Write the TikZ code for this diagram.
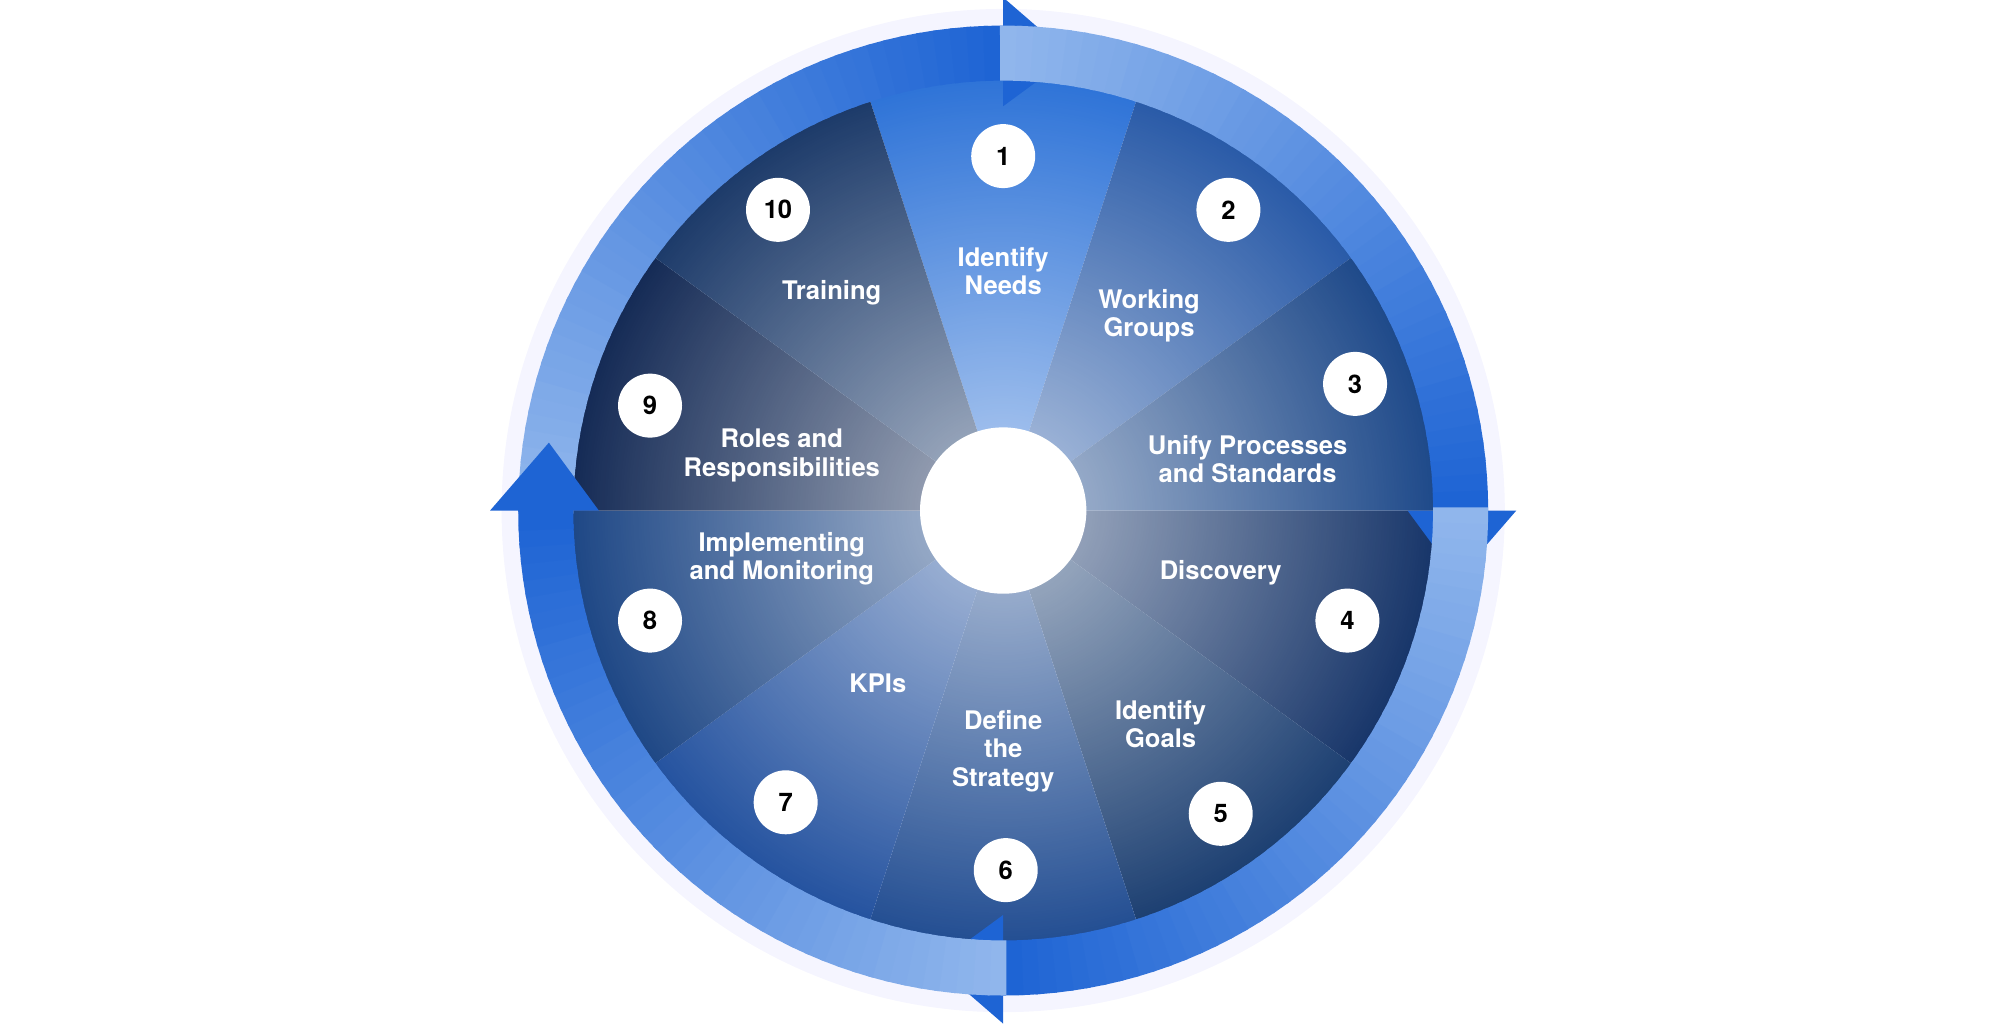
\documentclass[tikz,border=0pt]{standalone}
\usepackage{fontspec}
\setmainfont{TeX Gyre Heros}
\usetikzlibrary{fadings}
\tikzfading[name=centerglow, inner color=transparent!35, outer color=transparent!100]
\definecolor{ringlight}{HTML}{90B6EC}
\definecolor{ringdark}{HTML}{1E64D4}
\definecolor{sA}{HTML}{2F74D8}
\definecolor{sB}{HTML}{2A5BA8}
\definecolor{sC}{HTML}{1F4A8A}
\definecolor{sD}{HTML}{18366A}
\definecolor{sE}{HTML}{1D4072}
\definecolor{sF}{HTML}{244F93}
\definecolor{sG}{HTML}{2553A0}
\definecolor{sH}{HTML}{1F4886}
\definecolor{sI}{HTML}{152B56}
\definecolor{sJ}{HTML}{1D3B6A}
\tikzset{num/.style={circle,fill=white,minimum size=50pt,inner sep=0pt,font=\fontsize{20}{20}\selectfont\bfseries,text=black},
lab/.style={align=center,text=white,font=\fontsize{20}{22}\selectfont\bfseries}}
\begin{document}
\begin{tikzpicture}[x=1pt,y=1pt]
\useasboundingbox (-784,-401) rectangle (779,399);
\fill[blue!4] (0,0) circle(392);
% sectors
\foreach \c [count=\k from 0] in {sA,sB,sC,sD,sE,sF,sG,sH,sI,sJ}{
  \pgfmathsetmacro\sa{108-36*\k}
  \fill[\c] (0,0) -- (\sa:336.5) arc[start angle=\sa, end angle=\sa-36, radius=336.5] -- cycle;
}
\fill[white, path fading=centerglow] (0,0) circle(336);
% ring
\foreach \q in {0,...,3}{
  \foreach \i in {0,...,44}{
    \pgfmathsetmacro\a{180-90*\q-2*\i}
    \pgfmathtruncatemacro\p{100*\i/44}
    \draw[line width=43pt, color=ringdark!\p!ringlight] (\a+0.4:357.5) arc[start angle=\a+0.4, end angle=\a-2.2, radius=357.5];
  }
  \pgfmathsetmacro\b{90-90*\q}
  \fill[ringdark] (\b:316) -- (\b:401) -- (\b-8.5:359) -- cycle;
}
\fill[white] (0,0) circle(65);
% numbers
\node[num] (n1) at (0,277) {1};
\node[num] (n2) at (176,235) {2};
\node[num] (n3) at (275,99) {3};
\node[num] (n4) at (269,-86) {4};
\node[num] (n5) at (170,-237) {5};
\node[num] (n6) at (2,-281) {6};
\node[num] (n7) at (-170,-228) {7};
\node[num] (n8) at (-276,-86) {8};
\node[num] (n9) at (-276,82) {9};
\node[num] (n10) at (-176,235) {10};
% labels
\node[lab] (l1) at (0,187) {Identify\\Needs};
\node[lab] (l2) at (114,152) {Working\\Groups};
\node[lab] (l3) at (191,40) {Unify Processes\\and Standards};
\node[lab] (l4) at (170,-49) {Discovery};
\node[lab] (l5) at (123,-167) {Identify\\Goals};
\node[lab] (l6) at (0,-188) {Define\\the\\Strategy};
\node[lab] (l7) at (-98,-135) {KPIs};
\node[lab] (l8) at (-173,-38) {Implementing\\and Monitoring};
\node[lab] (l9) at (-173,43) {Roles and\\Responsibilities};
\node[lab] (l10) at (-134,170) {Training};
\end{tikzpicture}
\end{document}
